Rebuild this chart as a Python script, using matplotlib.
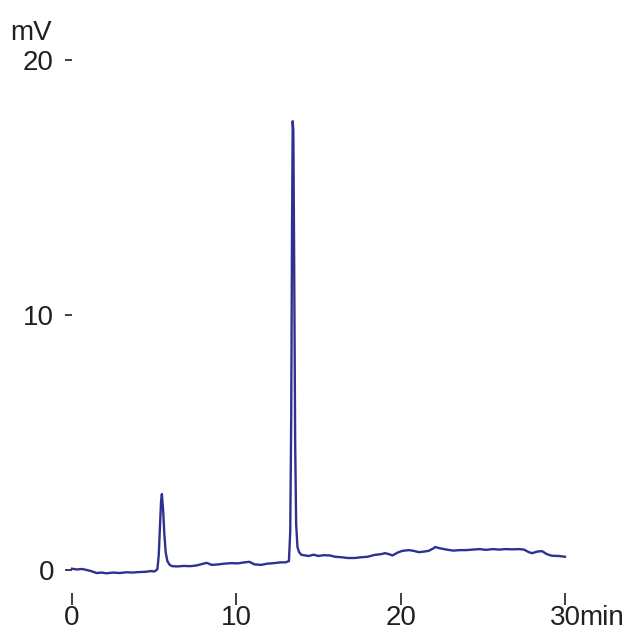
import matplotlib
matplotlib.use("Agg")
import matplotlib.pyplot as plt

plt.rcParams['font.family'] = ['Liberation Sans', 'DejaVu Sans']

# retention time (min) and detector signal (mV)
time_min = [0.0, 0.3, 0.6, 0.9, 1.2, 1.5, 1.8, 2.1, 2.5, 2.9, 3.3, 3.7, 4.1, 4.5, 4.8, 5.0, 5.15,
            5.2, 5.28, 5.36, 5.42, 5.47, 5.55, 5.62, 5.7, 5.8, 5.95, 6.1,
            6.4, 6.8, 7.2, 7.6, 8.0, 8.2, 8.5, 8.9, 9.3, 9.7, 10.1, 10.5, 10.8, 11.1, 11.5, 11.9,
            12.3, 12.7, 13.0, 13.2,
            13.28, 13.34, 13.39, 13.43, 13.47, 13.52, 13.58, 13.64, 13.72, 13.82, 13.95,
            14.1, 14.4, 14.7, 15.0, 15.3, 15.7, 16.0, 16.4, 16.8, 17.2, 17.6, 18.0, 18.4, 18.8,
            19.05, 19.3, 19.5, 19.8, 20.1, 20.5, 20.8, 21.1, 21.4, 21.7, 22.0, 22.1, 22.4, 22.8,
            23.2, 23.6, 24.0, 24.4, 24.8, 25.2, 25.6, 26.0, 26.4, 26.8, 27.2, 27.5, 27.8, 28.0,
            28.3, 28.6, 28.9, 29.2, 29.6, 30.0]
signal_mv = [0.05, 0.02, 0.04, 0.0, -0.05, -0.12, -0.1, -0.13, -0.1, -0.12, -0.09, -0.1, -0.08, -0.07, -0.04, -0.06, 0.0,
             0.05, 0.6, 1.8, 2.7, 2.98, 2.3, 1.4, 0.7, 0.35, 0.2, 0.15,
             0.14, 0.16, 0.15, 0.18, 0.25, 0.28, 0.2, 0.22, 0.25, 0.27, 0.26, 0.3, 0.32, 0.22, 0.2, 0.25,
             0.27, 0.3, 0.3, 0.35,
             1.5, 6.0, 13.5, 17.6, 17.2, 12.0, 5.0, 1.8, 0.9, 0.7, 0.6,
             0.58, 0.55, 0.6, 0.55, 0.58, 0.57, 0.52, 0.5, 0.47, 0.47, 0.5, 0.52, 0.59, 0.62,
             0.66, 0.62, 0.57, 0.68, 0.75, 0.78, 0.75, 0.7, 0.72, 0.75, 0.85, 0.9, 0.85, 0.8,
             0.76, 0.78, 0.78, 0.8, 0.82, 0.79, 0.82, 0.8, 0.82, 0.81, 0.82, 0.8, 0.7, 0.66,
             0.72, 0.74, 0.62, 0.56, 0.55, 0.52]

x_ticks = [0, 10, 20, 30]
y_ticks = [0, 10, 20]

W, H = 629, 632
fig = plt.figure(figsize=(W / 100, H / 100), dpi=100)
ax = fig.add_axes([72 / W, 1 - 570 / H, (565 - 72) / W, (570 - 60) / H])

ax.plot(time_min, signal_mv, color='#2e3192', lw=1.7, clip_on=False)
ax.set_xlim(0, 30)
ax.set_ylim(0, 20)

for s in ax.spines.values():
    s.set_visible(False)
ax.spines['bottom'].set_position(('outward', 16.5))

ax.set_xticks(x_ticks)
ax.set_xticklabels([str(v) for v in x_ticks])
ax.set_yticks(y_ticks)
ax.set_yticklabels([str(v) for v in y_ticks])
ax.tick_params(axis='x', direction='out', length=8.6, width=1.2, pad=0,
               labelsize=20, colors='#231f20')
ax.tick_params(axis='y', direction='out', length=5, width=1.2, pad=8,
               labelsize=20, colors='#231f20')

fig.text(10 / W, 1 - 40 / H, 'mV', ha='left', va='baseline', fontsize=20, color='#231f20')
fig.text(579 / W, 1 - 625 / H, 'min', ha='left', va='baseline', fontsize=20, color='#231f20')

fig.savefig('out.png', dpi=100)
